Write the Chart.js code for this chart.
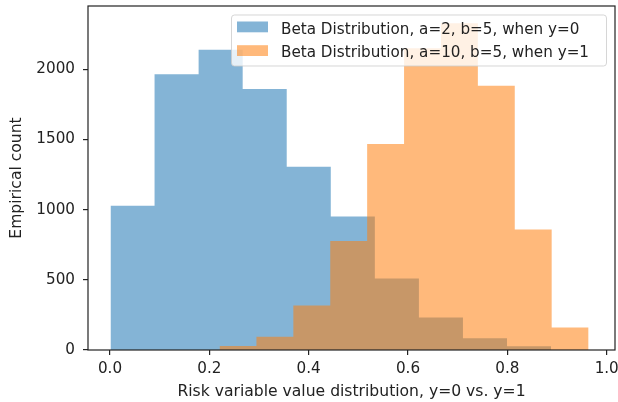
<!DOCTYPE html>
<html>
<head>
<meta charset="utf-8">
<script src="https://cdn.jsdelivr.net/npm/chart.js@4"></script>
<style>
  body { margin: 0; background: #ffffff; }
  canvas { display: block; }
</style>
</head>
<body>
<canvas id="hist-chart" width="618" height="402"></canvas>
<script>
// Histogram bins (bin edges and counts per bin)
const blueEdges = [0.001, 0.0897, 0.1784, 0.2671, 0.3558, 0.4445, 0.5332, 0.6219, 0.7106, 0.7993, 0.888];
const blueCounts = [1027, 1964, 2140, 1859, 1305, 951, 509, 231, 83, 27];

const orangeEdges = [0.2205, 0.2948, 0.3691, 0.4434, 0.5177, 0.592, 0.6663, 0.7406, 0.8149, 0.8892, 0.9635];
const orangeCounts = [28, 95, 317, 777, 1467, 2150, 2328, 1883, 859, 160];

const seriesLabels = [
    'Beta Distribution, a=2, b=5, when y=0',
    'Beta Distribution, a=10, b=5, when y=1'
];

const xTicks = [0.0, 0.2, 0.4, 0.6, 0.8, 1.0];
const yTicks = [0, 500, 1000, 1500, 2000];

const FONT = 'DejaVu Sans';
const FONT_SIZE = 15.2;
const TITLE_SIZE = 15.6;
const TEXT = '#222222';
const BLUE = 'rgba(31, 119, 180, 0.55)';
const ORANGE = 'rgba(255, 127, 14, 0.55)';

// Turn edges + counts into step points for a filled stepped line
function stepPoints(edges, counts) {
    const pts = [{ x: edges[0], y: 0 }];
    counts.forEach((c, i) => pts.push({ x: edges[i], y: c }));
    pts.push({ x: edges[edges.length - 1], y: 0 });
    return pts;
}

// Frame round the axes and the boxed legend in the upper right
const framePlugin = {
    id: 'frame',
    afterDatasetsDraw(chart) {
        const ctx = chart.ctx;
        const a = chart.chartArea;

        // legend
        const lx = 231, ly = 14.5, lw = 375, lh = 51, r = 3;
        ctx.save();
        ctx.beginPath();
        ctx.roundRect(lx + 0.5, ly + 0.5, lw, lh, r);
        ctx.fillStyle = 'rgba(255,255,255,0.8)';
        ctx.fill();
        ctx.strokeStyle = 'rgba(204,204,204,0.8)';
        ctx.lineWidth = 1;
        ctx.stroke();

        const colors = [BLUE, ORANGE];
        const baselines = [33.5, 57.2];
        ctx.font = FONT_SIZE + 'px "' + FONT + '"';
        ctx.textBaseline = 'alphabetic';
        ctx.textAlign = 'left';
        seriesLabels.forEach((label, i) => {
            ctx.fillStyle = colors[i];
            ctx.fillRect(237, baselines[i] - 12, 31, 10.8);
            ctx.fillStyle = TEXT;
            ctx.fillText(label, 281, baselines[i]);
        });
        ctx.restore();

        // spines
        ctx.save();
        ctx.strokeStyle = '#222222';
        ctx.lineWidth = 1.2;
        ctx.strokeRect(a.left, a.top, a.right - a.left, a.bottom - a.top);
        ctx.restore();
    }
};

const ctx = document.getElementById('hist-chart').getContext('2d');

new Chart(ctx, {
    type: 'line',
    data: {
        datasets: [
            {
                label: seriesLabels[0],
                data: stepPoints(blueEdges, blueCounts),
                stepped: 'before',
                fill: 'origin',
                backgroundColor: BLUE,
                borderColor: 'rgba(0,0,0,0)',
                borderWidth: 1,
                pointRadius: 0,
                order: 2
            },
            {
                label: seriesLabels[1],
                data: stepPoints(orangeEdges, orangeCounts),
                stepped: 'before',
                fill: 'origin',
                backgroundColor: ORANGE,
                borderColor: 'rgba(0,0,0,0)',
                borderWidth: 1,
                pointRadius: 0,
                order: 1
            }
        ]
    },
    options: {
        responsive: false,
        animation: false,
        layout: {
            padding: { left: 0, right: 3, top: 6, bottom: 0 }
        },
        plugins: {
            legend: { display: false },
            tooltip: { enabled: false }
        },
        scales: {
            x: {
                type: 'linear',
                min: -0.0443,
                max: 1.0167,
                afterFit: (scale) => {
                    scale.height = 52;
                    scale.paddingLeft = 0;
                    scale.paddingRight = 0;
                },
                afterBuildTicks: (scale) => {
                    scale.ticks = xTicks.map(v => ({ value: v }));
                },
                border: { display: false },
                grid: {
                    drawOnChartArea: false,
                    tickLength: 5,
                    color: '#222222',
                    lineWidth: 1.2
                },
                ticks: {
                    color: TEXT,
                    font: { family: FONT, size: FONT_SIZE },
                    padding: 5,
                    maxRotation: 0,
                    autoSkip: false,
                    callback: (v) => Number(v).toFixed(1)
                },
                title: {
                    display: true,
                    text: 'Risk variable value distribution, y=0 vs. y=1',
                    color: TEXT,
                    font: { family: FONT, size: TITLE_SIZE },
                    padding: { top: 0, bottom: 0.5 }
                }
            },
            y: {
                min: 0,
                max: 2451,
                afterFit: (scale) => {
                    scale.width = 88;
                    scale.paddingTop = 0;
                    scale.paddingBottom = 0;
                },
                afterBuildTicks: (scale) => {
                    scale.ticks = yTicks.map(v => ({ value: v }));
                },
                border: { display: false },
                grid: {
                    drawOnChartArea: false,
                    tickLength: 5,
                    color: '#222222',
                    lineWidth: 1.2
                },
                ticks: {
                    color: TEXT,
                    font: { family: FONT, size: FONT_SIZE },
                    padding: 8,
                    callback: (v) => String(v)
                },
                title: {
                    display: true,
                    text: 'Empirical count',
                    color: TEXT,
                    font: { family: FONT, size: TITLE_SIZE },
                    padding: { top: 8, bottom: 0 }
                }
            }
        }
    },
    plugins: [framePlugin]
});
</script>
</body>
</html>
